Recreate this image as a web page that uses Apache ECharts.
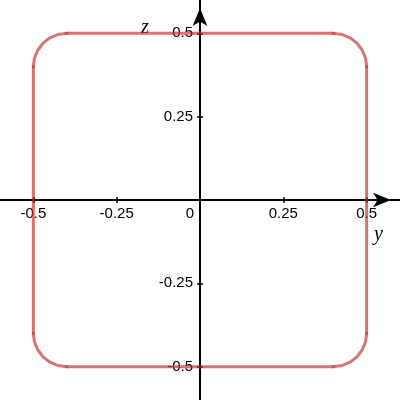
<!DOCTYPE html>
<html><head><meta charset="utf-8">
<script src="https://cdn.jsdelivr.net/npm/echarts@6/dist/echarts.min.js"></script>
<style>html,body{margin:0;padding:0;background:#fff}#c{width:400px;height:400px}</style>
</head><body><div id="c"></div>
<script>
// Curve points (y, z) of the rounded square
const curveY = [0.5, 0.5, 0.4966, 0.4866, 0.4707, 0.45, 0.4259, 0.4,
  -0.4, -0.4259, -0.45, -0.4707, -0.4866, -0.4966, -0.5,
  -0.5, -0.4966, -0.4866, -0.4707, -0.45, -0.4259, -0.4,
  0.4, 0.4259, 0.45, 0.4707, 0.4866, 0.4966, 0.5];
const curveZ = [-0.4, 0.4, 0.4259, 0.45, 0.4707, 0.4866, 0.4966, 0.5,
  0.5, 0.4966, 0.4866, 0.4707, 0.45, 0.4259, 0.4,
  -0.4, -0.4259, -0.45, -0.4707, -0.4866, -0.4966, -0.5,
  -0.5, -0.4966, -0.4866, -0.4707, -0.45, -0.4259, -0.4];
// Junction points between straight pieces and arcs
const jointY = [0.5, 0.4, -0.4, -0.5, -0.5, -0.4, 0.4, 0.5];
const jointZ = [0.4, 0.5, 0.5, 0.4, -0.4, -0.5, -0.5, -0.4];
const xTickLabels = [-0.5, -0.25, 0, 0.25, 0.5];
const yTickLabels = [-0.5, -0.25, 0.25, 0.5];
const tickValues = [-0.5, -0.25, 0.25, 0.5];
const axisMin = -0.6, axisMax = 0.6;

const font = '"Liberation Sans", Arial, sans-serif';
const lineCol = 'rgba(195,40,40,0.65)';
const chart = echarts.init(document.getElementById('c'), null, {renderer: 'canvas'});
function fmt(v) { return v === 0 ? '{z|0}' : String(v); }
const tickStyle = {color: '#000', width: 1.5};
chart.setOption({
  animation: false,
  grid: {left: 0, right: 0, top: 0, bottom: 0, containLabel: false, outerBoundsMode: 'none'},
  xAxis: [{
    type: 'value', min: axisMin, max: axisMax, splitLine: {show: false},
    position: 'bottom', offset: -200,
    axisLine: {onZero: false, lineStyle: {color: '#000', width: 2},
      symbol: ['none', 'arrow'], symbolSize: [11, 18], symbolOffset: [0, -9]},
    axisTick: {customValues: tickValues, length: 3, lineStyle: tickStyle},
    axisLabel: {customValues: xTickLabels, formatter: fmt, margin: 6, color: '#000',
      fontFamily: font, fontSize: 15,
      rich: {z: {padding: [0, 20, 0, 0], fontFamily: font, fontSize: 15, color: '#000'}}}
  }, {
    type: 'value', min: axisMin, max: axisMax, splitLine: {show: false},
    position: 'top', offset: -200,
    axisLine: {show: false, onZero: false},
    axisTick: {customValues: tickValues, length: 3, lineStyle: tickStyle},
    axisLabel: {show: false}
  }],
  yAxis: [{
    type: 'value', min: axisMin, max: axisMax, splitLine: {show: false},
    position: 'left', offset: -200,
    axisLine: {onZero: false, lineStyle: {color: '#000', width: 2},
      symbol: ['none', 'arrow'], symbolSize: [11, 18], symbolOffset: [0, -8]},
    axisTick: {customValues: tickValues, length: 3, lineStyle: tickStyle},
    axisLabel: {customValues: yTickLabels, margin: 7, color: '#000', fontFamily: font, fontSize: 15}
  }, {
    type: 'value', min: axisMin, max: axisMax, splitLine: {show: false},
    position: 'right', offset: -200,
    axisLine: {show: false, onZero: false},
    axisTick: {customValues: tickValues, length: 3, lineStyle: tickStyle},
    axisLabel: {show: false}
  }],
  graphic: [
    {type: 'text', left: 141, top: 18, silent: true,
      style: {text: 'z', font: 'italic 20px "Liberation Serif", "Times New Roman", serif', fill: '#000'}},
    {type: 'text', left: 374, top: 225, silent: true,
      style: {text: 'y', font: 'italic 20px "Liberation Serif", "Times New Roman", serif', fill: '#000'}}
  ],
  series: [
    {type: 'line', data: curveY.map((v, i) => [v, curveZ[i]]),
      showSymbol: false, lineStyle: {color: lineCol, width: 3}, z: 1},
    {type: 'scatter', data: jointY.map((v, i) => [v, jointZ[i]]),
      symbolSize: 3, itemStyle: {color: 'rgba(185,40,40,0.7)'}, z: 2}
  ]
});
</script></body></html>
